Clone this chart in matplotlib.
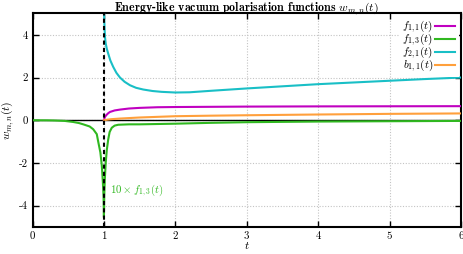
import matplotlib
matplotlib.use("Agg")
import matplotlib.pyplot as plt

plt.rcParams['mathtext.fontset'] = 'cm'
plt.rcParams['font.family'] = ['cmr10', 'DejaVu Serif']
plt.rcParams['axes.unicode_minus'] = False
plt.rcParams['axes.formatter.use_mathtext'] = False

# ---- data ----
t_f11 = [1.0, 1.01, 1.03, 1.06, 1.085, 1.15, 1.225, 1.35, 1.5, 1.75, 2.0, 2.5, 3.0, 4.0, 5.0, 6.0]
y_f11 = [0.0, 0.13, 0.23, 0.33, 0.39, 0.46, 0.50, 0.55, 0.58, 0.61, 0.62, 0.63, 0.64, 0.65, 0.655, 0.66]

t_f13 = [0.0, 0.2, 0.3, 0.45, 0.57, 0.65, 0.71, 0.8, 0.85, 0.9, 0.92, 0.95, 0.97, 0.985, 0.995, 1.0,
         1.005, 1.012, 1.025, 1.04, 1.06, 1.08, 1.11, 1.15, 1.2, 1.35, 1.5, 2.0, 2.5, 3.0, 4.0, 5.0, 6.0]
y_f13 = [0.0, -0.003, -0.01, -0.03, -0.08, -0.13, -0.19, -0.29, -0.42, -0.65, -1.0, -1.5, -2.1, -2.9, -3.6, -4.55,
         -3.5, -2.8, -2.0, -1.4, -0.9, -0.55, -0.35, -0.25, -0.21, -0.19, -0.19, -0.16, -0.12, -0.09, -0.06, -0.045, -0.03]

t_f21 = [1.002, 1.006, 1.01, 1.015, 1.025, 1.04, 1.062, 1.09, 1.13, 1.175, 1.225, 1.29, 1.365, 1.45,
         1.55, 1.68, 1.81, 2.0, 2.2, 2.5, 3.0, 3.5, 4.0, 4.5, 5.0, 5.5, 6.0]
y_f21 = [5.1, 4.6, 4.25, 3.9, 3.6, 3.35, 3.1, 2.8, 2.5, 2.22, 2.0, 1.8, 1.64, 1.52,
         1.44, 1.37, 1.33, 1.30, 1.31, 1.38, 1.49, 1.59, 1.69, 1.77, 1.85, 1.93, 2.0]

t_b11 = [1.0, 1.05, 1.1, 1.225, 1.5, 2.0, 2.5, 3.0, 4.0, 5.0, 6.0]
y_b11 = [0.0, 0.03, 0.05, 0.08, 0.13, 0.19, 0.215, 0.235, 0.27, 0.30, 0.32]

labels = [r'$f_{1,1}(t)$', r'$f_{1,3}(t)$', r'$f_{2,1}(t)$', r'$b_{1,1}(t)$']
colors = ['#c000c0', '#30b820', '#19bfc6', '#ffa03c']

xticks = [0, 1, 2, 3, 4, 5, 6]
yticks = [-4, -2, 0, 2, 4]

fig = plt.figure(figsize=(4.63, 2.54), dpi=100)
ax = fig.add_axes([0.0702, 0.106, 0.9255, 0.841])

ax.grid(True, color='#c4c4c4', linestyle=(0, (1, 1.5)), linewidth=0.8)
ax.set_axisbelow(True)
ax.axhline(0, color='black', lw=1.0, zorder=2)

ax.plot(t_f11, y_f11, color=colors[0], lw=1.5, label=labels[0], zorder=3)
ax.plot(t_f13, y_f13, color=colors[1], lw=1.5, label=labels[1], zorder=3)
ax.plot(t_f21, y_f21, color=colors[2], lw=1.5, label=labels[2], zorder=3)
ax.plot(t_b11, y_b11, color=colors[3], lw=1.5, label=labels[3], zorder=3)

ax.axvline(1, color='black', lw=1.5, linestyle=(0, (2, 1.5)), zorder=4)

ax.text(1.085, -3.3, r'$10\times f_{1,3}(t)$', color=colors[1], fontsize=7.8,
        va='center', ha='left')

ax.set_xlim(0, 6)
ax.set_ylim(-5, 5)
ax.set_xticks(xticks)
ax.set_yticks(yticks)
ax.set_xticklabels([str(v) for v in xticks])
ax.set_yticklabels([str(v) for v in yticks])
ax.tick_params(direction='in', length=4, width=1, top=True, right=True, labelsize=7.8, pad=3.5)
for s in ax.spines.values():
    s.set_linewidth(1.5)

ax.set_xlabel(r'$t$', fontsize=8.5, labelpad=-1)
ax.set_ylabel(r'$w_{m,n}(t)$', fontsize=8.5, labelpad=2)
ax.set_title(r'Energy-like vacuum polarisation functions $w_{m,n}(t)$',
             fontsize=8.6, fontfamily='cmb10', pad=1.5)

leg = ax.legend(loc='upper right', markerfirst=False, fontsize=8, frameon=True,
                framealpha=1, edgecolor='none', fancybox=False, handlelength=1.8,
                handletextpad=0.2, labelspacing=-0.3, borderpad=0.3,
                borderaxespad=0.2)
leg.set_zorder(5)

fig.savefig('out.png', dpi=100)
